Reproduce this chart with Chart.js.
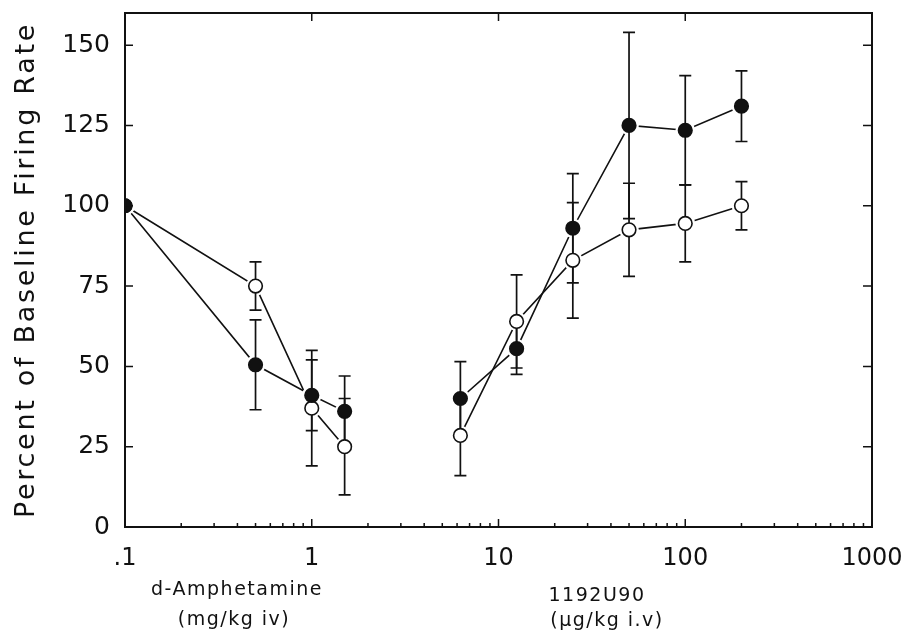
<!DOCTYPE html>
<html>
<head>
<meta charset="utf-8">
<script src="https://cdn.jsdelivr.net/npm/chart.js@4.4.0/dist/chart.umd.min.js"></script>
<style>
  html, body { margin: 0; padding: 0; background: #fff; }
  #wrap { width: 908px; height: 631px; position: relative; }
</style>
</head>
<body>
<div id="wrap"><canvas id="c"></canvas></div>
<script>
// ---- data ----
const ampDoses = [0.1, 0.5, 1, 1.5];               // mg/kg iv
const ampFilled = [100, 50.5, 41, 36];
const ampFilledErr = [0, 14, 11, 11];
const ampOpen = [100, 75, 37, 25];
const ampOpenErr = [0, 7.5, 18, 15];

const udDoses = [6.25, 12.5, 25, 50, 100, 200];    // µg/kg iv
const udFilled = [40, 55.5, 93, 125, 123.5, 131];
const udFilledErr = [11.5, 8, 17, 29, 17, 11];
const udOpen = [28.5, 64, 83, 92.5, 94.5, 100];
const udOpenErr = [12.5, 14.5, 18, 14.5, 12, 7.5];

const xTickValues = [0.1, 1, 10, 100, 1000];
const xTickLabels = ['.1', '1', '10', '100', '1000'];
const yTickValues = [0, 25, 50, 75, 100, 125, 150];
const yTitle = 'Percent of Baseline Firing Rate';
const drugLabels = [
  { lines: ['d-Amphetamine', '(mg/kg iv)'], x: [237, 234], y: [590, 620] },
  { lines: ['1192U90', '(µg/kg i.v)'], x: [597, 607], y: [596, 621] }
];

const pts = (xs, ys) => xs.map((x, i) => ({ x: x, y: ys[i] }));
const INK = '#111';
const R = 6.8;

function lineDs(xs, ys) {
  return { data: pts(xs, ys), showLine: true, borderColor: INK, borderWidth: 1.6,
           pointRadius: 0, order: 3, kind: 'line' };
}
function haloDs(xs, ys) {
  return { data: pts(xs, ys), showLine: false, pointRadius: R + 3, pointBackgroundColor: '#fff',
           pointBorderWidth: 0, pointBorderColor: '#fff', order: 2, kind: 'halo' };
}
function markDs(xs, ys, errs, filled) {
  return { data: pts(xs, ys), showLine: false, pointRadius: R,
           pointBackgroundColor: filled ? INK : '#fff', pointBorderColor: INK,
           pointBorderWidth: 1.6, order: filled ? 0 : 1, kind: 'mark', errs: errs };
}

const datasets = [
  lineDs(ampDoses, ampFilled), lineDs(ampDoses, ampOpen),
  lineDs(udDoses, udFilled), lineDs(udDoses, udOpen),
  haloDs(ampDoses, ampFilled), haloDs(ampDoses, ampOpen),
  haloDs(udDoses, udFilled), haloDs(udDoses, udOpen),
  markDs(ampDoses, ampOpen, ampOpenErr, false), markDs(udDoses, udOpen, udOpenErr, false),
  markDs(ampDoses, ampFilled, ampFilledErr, true), markDs(udDoses, udFilled, udFilledErr, true)
];

let errDrawn = false;
const decorPlugin = {
  id: 'decor',
  beforeDatasetsDraw(chart) { errDrawn = false; },
  beforeDatasetDraw(chart, args) {
    const ds = chart.data.datasets[args.index];
    if (ds.kind !== 'mark' || errDrawn) return;
    errDrawn = true;
    const ctx = chart.ctx, xs = chart.scales.x, ys = chart.scales.y;
    ctx.save();
    ctx.strokeStyle = INK; ctx.lineWidth = 1.7;
    chart.data.datasets.forEach(d => {
      if (d.kind !== 'mark') return;
      d.data.forEach((p, i) => {
        const e = d.errs[i];
        if (!e) return;
        const px = xs.getPixelForValue(p.x);
        const top = ys.getPixelForValue(p.y + e), bot = ys.getPixelForValue(p.y - e);
        ctx.beginPath();
        ctx.moveTo(px, top); ctx.lineTo(px, bot);
        ctx.moveTo(px - 6, top); ctx.lineTo(px + 6, top);
        ctx.moveTo(px - 6, bot); ctx.lineTo(px + 6, bot);
        ctx.stroke();
      });
    });
    ctx.restore();
  },
  afterDraw(chart) {
    const ctx = chart.ctx, a = chart.chartArea, xs = chart.scales.x, ys = chart.scales.y;
    ctx.save();
    ctx.strokeStyle = INK; ctx.lineWidth = 2;
    ctx.strokeRect(a.left, a.top, a.right - a.left, a.bottom - a.top);
    ctx.lineWidth = 1.5;
    ctx.beginPath();
    yTickValues.forEach(v => {
      const py = ys.getPixelForValue(v);
      ctx.moveTo(a.left, py); ctx.lineTo(a.left + 8, py);
      ctx.moveTo(a.right, py); ctx.lineTo(a.right - 9, py);
    });
    xTickValues.forEach(v => {
      const px = xs.getPixelForValue(v);
      ctx.moveTo(px, a.bottom); ctx.lineTo(px, a.bottom - 8);
      ctx.moveTo(px, a.top); ctx.lineTo(px, a.top + 8);
    });
    xTickValues.slice(0, -1).forEach(d => {
      for (let m = 2; m <= 9; m++) {
        const px = xs.getPixelForValue(d * m);
        ctx.moveTo(px, a.bottom); ctx.lineTo(px, a.bottom - 4);
      }
    });
    ctx.stroke();

    ctx.fillStyle = INK;
    ctx.save();
    ctx.translate(27, (a.top + a.bottom) / 2);
    ctx.rotate(-Math.PI / 2);
    ctx.font = '27px "DejaVu Sans"';
    ctx.letterSpacing = '2.7px';
    ctx.textAlign = 'center'; ctx.textBaseline = 'middle';
    ctx.fillText(yTitle, 0, 0);
    ctx.restore();
    ctx.font = '19px "DejaVu Sans"';
    ctx.letterSpacing = '1.5px';
    ctx.textAlign = 'center'; ctx.textBaseline = 'middle';
    drugLabels.forEach(g => g.lines.forEach((t, i) => ctx.fillText(t, g.x[i], g.y[i])));
    ctx.restore();
  }
};

new Chart(document.getElementById('c'), {
  type: 'scatter',
  data: { datasets: datasets },
  options: {
    responsive: true, maintainAspectRatio: false, animation: false,
    layout: { padding: { left: 0, right: 36, top: 13, bottom: 0 } },
    plugins: { legend: { display: false }, tooltip: { enabled: false } },
    scales: {
      x: {
        type: 'logarithmic', min: 0.1, max: 1000,
        grid: { display: false }, border: { display: false },
        afterBuildTicks: s => { s.ticks = xTickValues.map(v => ({ value: v })); },
        afterFit: s => { s.height = 104; s.paddingLeft = 0; s.paddingRight = 0; },
        ticks: {
          color: INK, padding: 9, maxRotation: 0, autoSkip: false,
          font: { family: 'DejaVu Sans', size: 24 },
          callback: (v) => { const i = xTickValues.indexOf(v); return i >= 0 ? xTickLabels[i] : ''; }
        }
      },
      y: {
        type: 'linear', min: 0, max: 160,
        grid: { display: false }, border: { display: false },
        afterBuildTicks: s => { s.ticks = yTickValues.map(v => ({ value: v })); },
        afterFit: s => { s.width = 125; s.paddingTop = 0; s.paddingBottom = 0; },
        ticks: { color: INK, padding: 7, font: { family: 'DejaVu Sans', size: 25 } }
      }
    }
  },
  plugins: [decorPlugin]
});
</script>
</body>
</html>
